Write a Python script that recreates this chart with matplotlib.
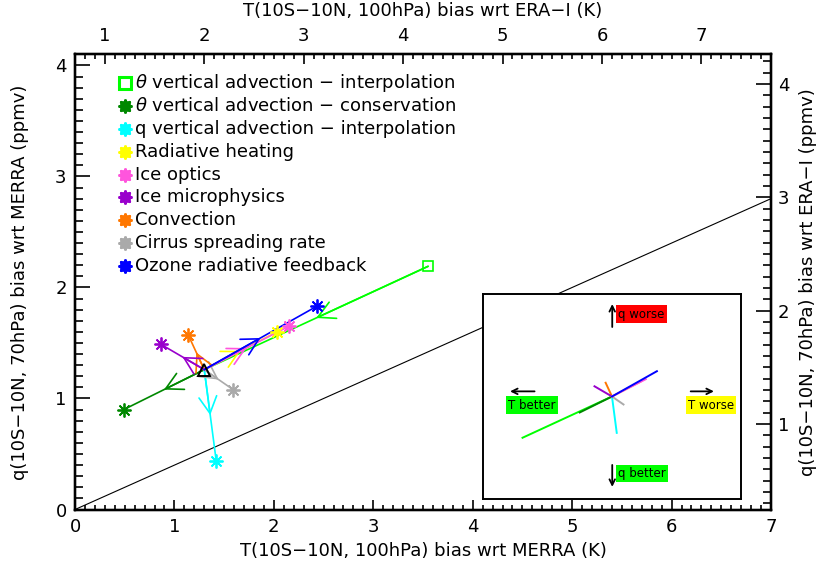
import numpy as np
import matplotlib
matplotlib.use("Agg")
import matplotlib.pyplot as plt
from matplotlib.ticker import MultipleLocator

plt.rcParams['font.family'] = ['DejaVu Sans']

# control run (triangle)
ctrl_T = 1.30
ctrl_q = 1.26

# experiments
noms = ["$\\theta$ vertical advection − interpolation",
        "$\\theta$ vertical advection − conservation",
        "q vertical advection − interpolation",
        "Radiative heating",
        "Ice optics",
        "Ice microphysics",
        "Convection",
        "Cirrus spreading rate",
        "Ozone radiative feedback"]
exp_T = [3.55, 0.49, 1.42, 2.03, 2.15, 0.86, 1.14, 1.59, 2.43]
exp_q = [2.19, 0.90, 0.44, 1.60, 1.65, 1.49, 1.57, 1.08, 1.83]
couleurs = ["#00ff00", "#008800", "#00ffff", "#ffff00", "#ff55dd",
            "#9900cc", "#ff7700", "#aaaaaa", "#0000ff"]
# True: arrow goes from experiment to control
inverse = [True, False, False, False, False, False, False, False, False]

pente = 0.4          # reference line q = pente * T
decal_T_era = 0.70   # top axis offset
q_era = (0.245, 4.263)

fig = plt.figure(figsize=(8.27, 5.70), dpi=100)
ax = fig.add_axes([0.0907, 0.1061, 0.8416, 0.7986])
ax.set_xlim(0, 7)
ax.set_ylim(0, 4.1)

ax.plot([0, 7], [0, pente * 7], color="black", lw=0.8, zorder=1)

ordre = [0, 1, 2, 7, 6, 5, 3, 4, 8]
for i in ordre:
    c = couleurs[i]
    if inverse[i]:
        x0, y0, x1, y1 = exp_T[i], exp_q[i], ctrl_T, ctrl_q
    else:
        x0, y0, x1, y1 = ctrl_T, ctrl_q, exp_T[i], exp_q[i]
    ax.plot([x0, x1], [y0, y1], color=c, lw=1.2, zorder=2)
    mx, my = (x0 + x1) / 2, (y0 + y1) / 2
    ax.annotate("", xy=(mx, my), xytext=(x0, y0),
                arrowprops=dict(arrowstyle="->,head_length=0.6,head_width=0.32",
                                color=c, lw=1.2, shrinkA=0, shrinkB=0,
                                mutation_scale=20), zorder=2)
    if i == 0:
        ax.plot(exp_T[i], exp_q[i], marker="s", ms=7.5, mfc="none",
                mec=c, mew=1.2, zorder=4)
    else:
        ax.plot(exp_T[i], exp_q[i], marker=(8, 2, 0), ms=10, mec=c,
                mew=1.3, zorder=4)

ax.plot(ctrl_T, ctrl_q, marker="^", ms=8, mfc="none", mec="black",
        mew=1.4, zorder=5)

# legend
for k, (nom, c) in enumerate(zip(noms, couleurs)):
    yy = 0.936 - k * 0.0501
    if k == 0:
        ax.plot(0.0718, yy, marker="s", ms=8, mfc="none", mec=c, mew=2.2,
                transform=ax.transAxes, clip_on=False)
    else:
        ax.plot(0.0718, yy, marker="s", ms=7, mfc=c, mec=c, mew=0.5,
                transform=ax.transAxes, clip_on=False)
        ax.plot(0.0718, yy, marker=(8, 2, 0), ms=10, mec=c, mew=1.6,
                transform=ax.transAxes, clip_on=False)
    ax.text(0.0855, yy, nom, transform=ax.transAxes, fontsize=13,
            va="center", ha="left")

# axes style
for s in ax.spines.values():
    s.set_linewidth(1.6)
ax.xaxis.set_major_locator(MultipleLocator(1))
ax.xaxis.set_minor_locator(MultipleLocator(0.1))
ax.yaxis.set_major_locator(MultipleLocator(1))
ax.yaxis.set_minor_locator(MultipleLocator(0.1))
ax.tick_params(which="both", direction="in", top=False, right=False,
               labelsize=13, width=1.2)
ax.tick_params(axis="x", which="major", length=7, pad=6)
ax.tick_params(axis="x", which="minor", length=3.5)
ax.tick_params(axis="y", which="major", length=11, pad=6)
ax.tick_params(axis="y", which="minor", length=5.5)

axt = ax.twiny()
axt.set_xlim(decal_T_era, 7 + decal_T_era)
axt.xaxis.set_major_locator(MultipleLocator(1))
axt.xaxis.set_minor_locator(MultipleLocator(0.1))
axt.tick_params(which="both", direction="in", labelsize=13, width=1.2)
axt.tick_params(which="major", length=7, pad=7)
axt.tick_params(which="minor", length=3.5)

axr = ax.twinx()
axr.set_ylim(*q_era)
axr.yaxis.set_major_locator(MultipleLocator(1))
axr.yaxis.set_minor_locator(MultipleLocator(0.1))
axr.tick_params(which="both", direction="in", labelsize=13, width=1.2)
axr.tick_params(which="major", length=11, pad=5)
axr.tick_params(which="minor", length=5.5)
for a in (axt, axr):
    for s in a.spines.values():
        s.set_linewidth(1.6)

fig.text(423 / 827, 1 - 551 / 570, "T(10S−10N, 100hPa) bias wrt MERRA (K)",
         fontsize=13, ha="center", va="center")
fig.text(423 / 827, 1 - 11 / 570, "T(10S−10N, 100hPa) bias wrt ERA−I (K)",
         fontsize=13, ha="center", va="center")
fig.text(20 / 827, 1 - 282 / 570, "q(10S−10N, 70hPa) bias wrt MERRA (ppmv)",
         fontsize=13, ha="center", va="center", rotation=90)
fig.text(808 / 827, 1 - 282 / 570, "q(10S−10N, 70hPa) bias wrt ERA−I (ppmv)",
         fontsize=13, ha="center", va="center", rotation=90)

# inset : arrow vectors from a common origin
axi = fig.add_axes([0.5840, 0.1246, 0.3120, 0.3596])
axi.set_xlim(-3.245, 3.245)
axi.set_ylim(-2.31, 2.31)
axi.set_xticks([])
axi.set_yticks([])
for s in axi.spines.values():
    s.set_linewidth(1.4)
for i in ordre:
    dT = exp_T[i] - ctrl_T
    dq = exp_q[i] - ctrl_q
    if inverse[i]:
        dT, dq = -dT, -dq
    axi.plot([0, dT], [0, dq], color=couleurs[i], lw=1.4)

fleche = dict(arrowstyle="->", color="black", lw=1.3, shrinkA=0, shrinkB=0)
axi.annotate("", xy=(0.501, 0.951), xytext=(0.501, 0.839),
             xycoords="axes fraction", arrowprops=fleche)
axi.annotate("", xy=(0.501, 0.059), xytext=(0.501, 0.166),
             xycoords="axes fraction", arrowprops=fleche)
axi.annotate("", xy=(0.105, 0.525), xytext=(0.200, 0.525),
             xycoords="axes fraction", arrowprops=fleche)
axi.annotate("", xy=(0.895, 0.525), xytext=(0.805, 0.525),
             xycoords="axes fraction", arrowprops=fleche)
etiquettes = [("q worse", 0.615, 0.902, "#ff0000"),
              ("q better", 0.616, 0.124, "#00ff00"),
              ("T better", 0.190, 0.458, "#00ff00"),
              ("T worse", 0.884, 0.458, "#ffff00")]
for txt, xx, yy, fond in etiquettes:
    axi.text(xx, yy, txt, transform=axi.transAxes, fontsize=8.5,
             ha="center", va="center",
             bbox=dict(boxstyle="square,pad=0.2", fc=fond, ec="none"))

fig.savefig("out.png", dpi=100)
